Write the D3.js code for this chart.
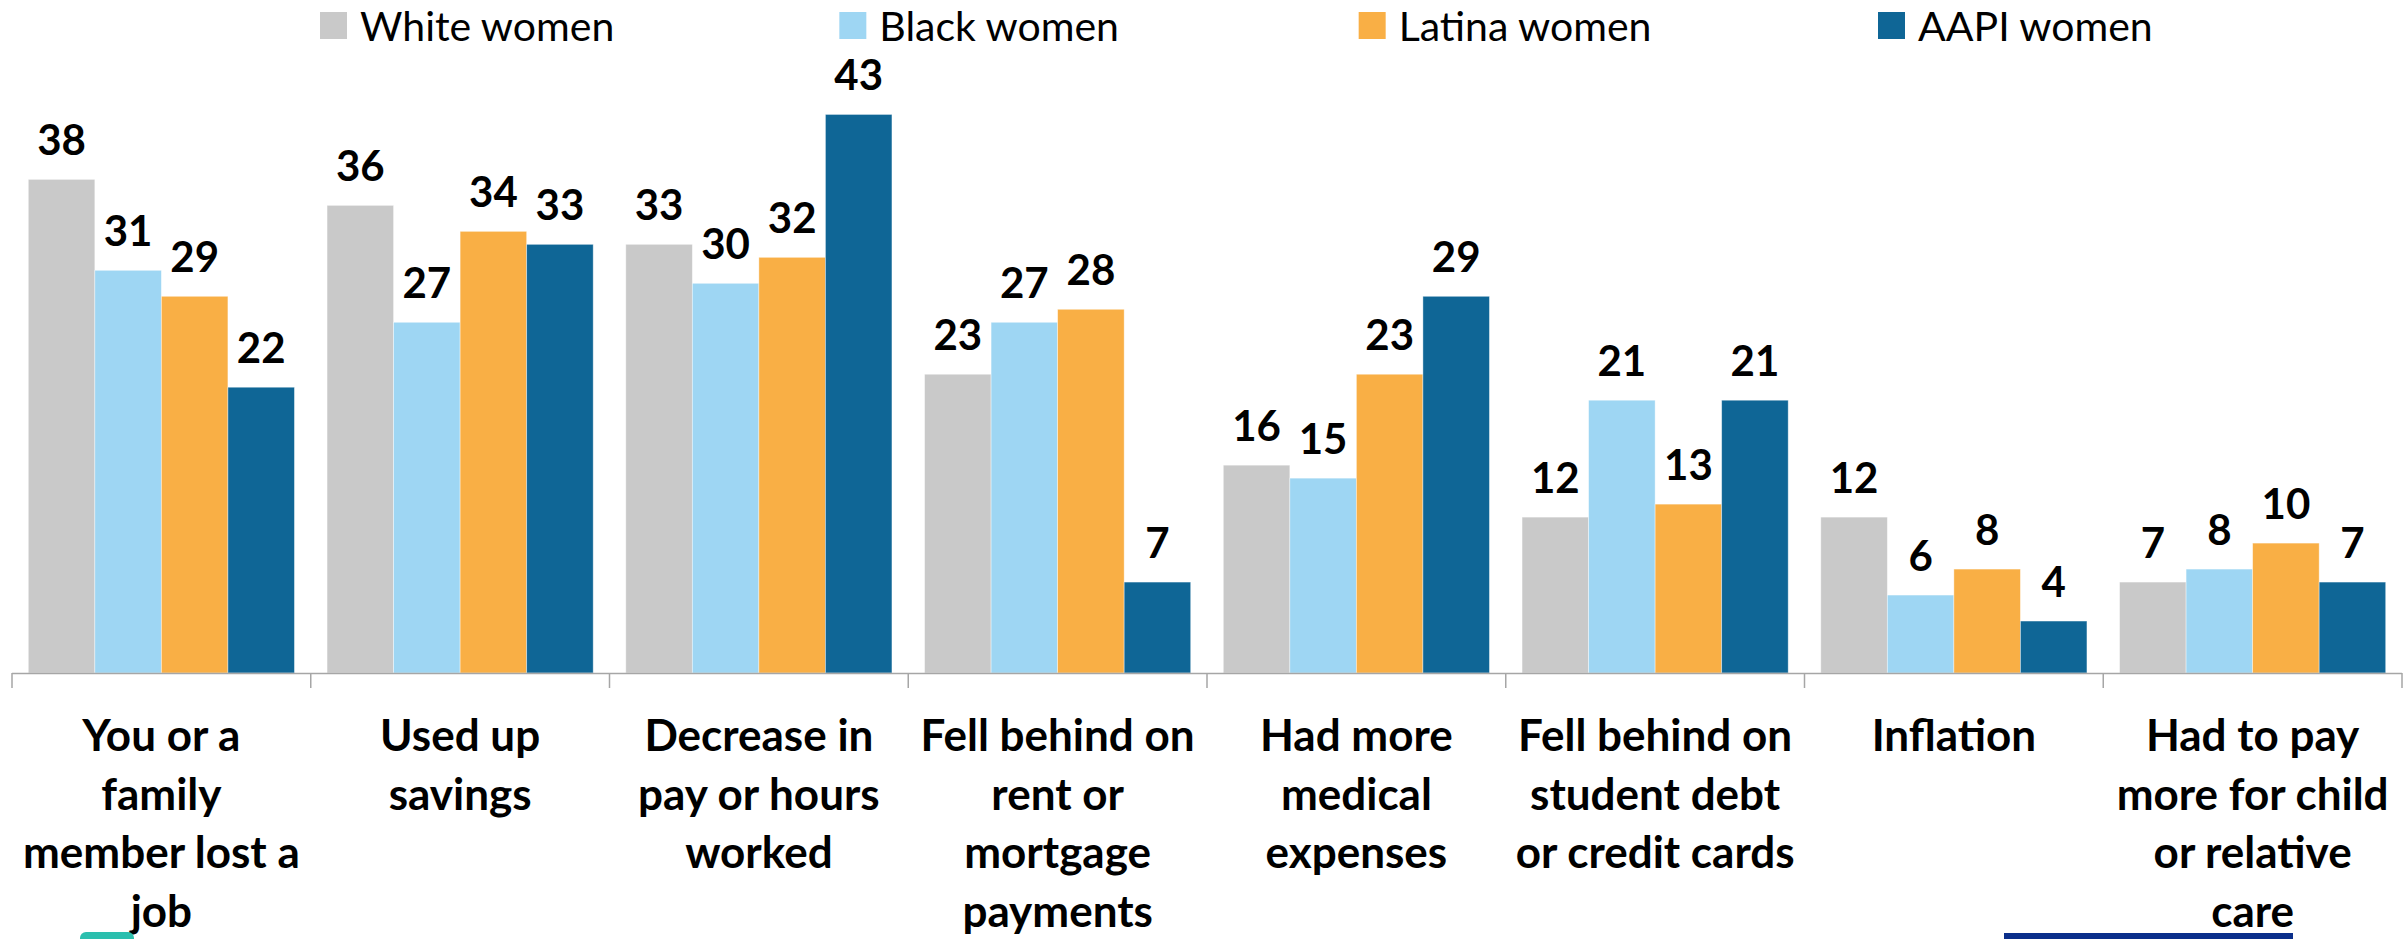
<!DOCTYPE html>
<html>
<head>
<meta charset="utf-8">
<script src="https://cdn.jsdelivr.net/npm/d3@7"></script>
<style>
  html, body { margin: 0; padding: 0; background: #ffffff; }
  svg { display: block; }
</style>
</head>
<body>
<svg id="chart" width="2407" height="939"></svg>
<script>
// Financial hardships reported, by group (percent)
const categoryLines = [
  ["You or a", "family", "member lost a", "job"],
  ["Used up", "savings"],
  ["Decrease in", "pay or hours", "worked"],
  ["Fell behind on", "rent or", "mortgage", "payments"],
  ["Had more", "medical", "expenses"],
  ["Fell behind on", "student debt", "or credit cards"],
  ["Inflation"],
  ["Had to pay", "more for child", "or relative", "care"]
];
const seriesNames = ["White women", "Black women", "Latina women", "AAPI women"];
const whiteWomen  = [38, 36, 33, 23, 16, 12, 12, 7];
const blackWomen  = [31, 27, 30, 27, 15, 21, 6, 8];
const latinaWomen = [29, 34, 32, 28, 23, 13, 8, 10];
const aapiWomen   = [22, 33, 43, 7, 29, 21, 4, 7];
const seriesColors = ["#C9C9C9", "#9ED6F3", "#F9AF45", "#0F6696"];

const seriesValues = [whiteWomen, blackWomen, latinaWomen, aapiWomen];
const catIndex = categoryLines.map((d, i) => i);

const svg = d3.select("#chart");
const font = "Lato, 'Open Sans', sans-serif";

const baseY = 673;
const x0 = d3.scaleBand().domain(catIndex).range([12, 2402]).paddingInner(0).paddingOuter(0);
const x1 = d3.scaleBand().domain(seriesNames).range([0, x0.bandwidth()]).paddingInner(0).paddingOuter(0.245);
const y = d3.scaleLinear().domain([0, 45]).range([baseY, baseY - 45 * 12.99]);

// Bars and value labels
const groups = svg.append("g").selectAll("g")
  .data(catIndex)
  .join("g")
  .attr("transform", i => `translate(${x0(i)},0)`);

groups.selectAll("rect")
  .data(i => seriesNames.map((s, k) => ({ s, k, v: seriesValues[k][i] })))
  .join("rect")
  .attr("x", d => x1(d.s))
  .attr("y", d => y(d.v))
  .attr("width", x1.bandwidth())
  .attr("height", d => y(0) - y(d.v))
  .attr("fill", d => seriesColors[d.k])
  .attr("stroke", "#ffffff")
  .attr("stroke-opacity", 0.5)
  .attr("stroke-width", 0.8);

groups.selectAll("text.value")
  .data(i => seriesNames.map((s, k) => ({ s, k, v: seriesValues[k][i] })))
  .join("text")
  .attr("class", "value")
  .attr("x", d => x1(d.s) + x1.bandwidth() / 2)
  .attr("y", d => y(d.v) - 24)
  .attr("text-anchor", "middle")
  .attr("font-family", font)
  .attr("font-weight", 700)
  .attr("font-size", 42)
  .attr("fill", "#000")
  .text(d => d.v);

// Category axis: baseline with boundary ticks
const axis = svg.append("g");
axis.append("line")
  .attr("x1", x0.range()[0]).attr("x2", x0.range()[1])
  .attr("y1", baseY + 0.5).attr("y2", baseY + 0.5)
  .attr("stroke", "#A6A6A6").attr("stroke-width", 1.5);
const boundaries = catIndex.map(i => x0(i)).concat([x0.range()[1]]);
axis.selectAll("line.tick")
  .data(boundaries)
  .join("line")
  .attr("class", "tick")
  .attr("x1", d => d).attr("x2", d => d)
  .attr("y1", baseY).attr("y2", baseY + 15)
  .attr("stroke", "#A6A6A6").attr("stroke-width", 1.5);

// Category labels
const catLabels = svg.append("g").selectAll("text")
  .data(catIndex)
  .join("text")
  .attr("x", i => x0(i) + x0.bandwidth() / 2)
  .attr("y", 751)
  .attr("text-anchor", "middle")
  .attr("font-family", font)
  .attr("font-weight", 700)
  .attr("font-size", 44)
  .attr("fill", "#000");
catLabels.selectAll("tspan")
  .data(i => categoryLines[i].map(t => ({ t, cx: x0(i) + x0.bandwidth() / 2 })))
  .join("tspan")
  .attr("x", d => d.cx)
  .attr("dy", (d, j) => j === 0 ? 0 : 58.5)
  .text(d => d.t);

// Legend
const legendX = d3.scalePoint().domain(seriesNames).range([320, 1878]);
const legend = svg.append("g").selectAll("g")
  .data(seriesNames)
  .join("g")
  .attr("transform", s => `translate(${legendX(s)},0)`);
legend.append("rect")
  .attr("x", 0).attr("y", 12)
  .attr("width", 27).attr("height", 27)
  .attr("fill", (s, k) => seriesColors[k]);
legend.append("text")
  .attr("x", 40).attr("y", 41)
  .attr("font-family", font)
  .attr("font-size", 41)
  .attr("fill", "#000")
  .text(s => s);

// Footer brand marks along the bottom edge
svg.append("rect")
  .attr("x", 80).attr("y", 932).attr("width", 54).attr("height", 14)
  .attr("rx", 6).attr("fill", "#2BBFAE");
svg.append("rect")
  .attr("x", 2004).attr("y", 933).attr("width", 289).attr("height", 6)
  .attr("fill", "#0B2F8B");
</script>
</body>
</html>
